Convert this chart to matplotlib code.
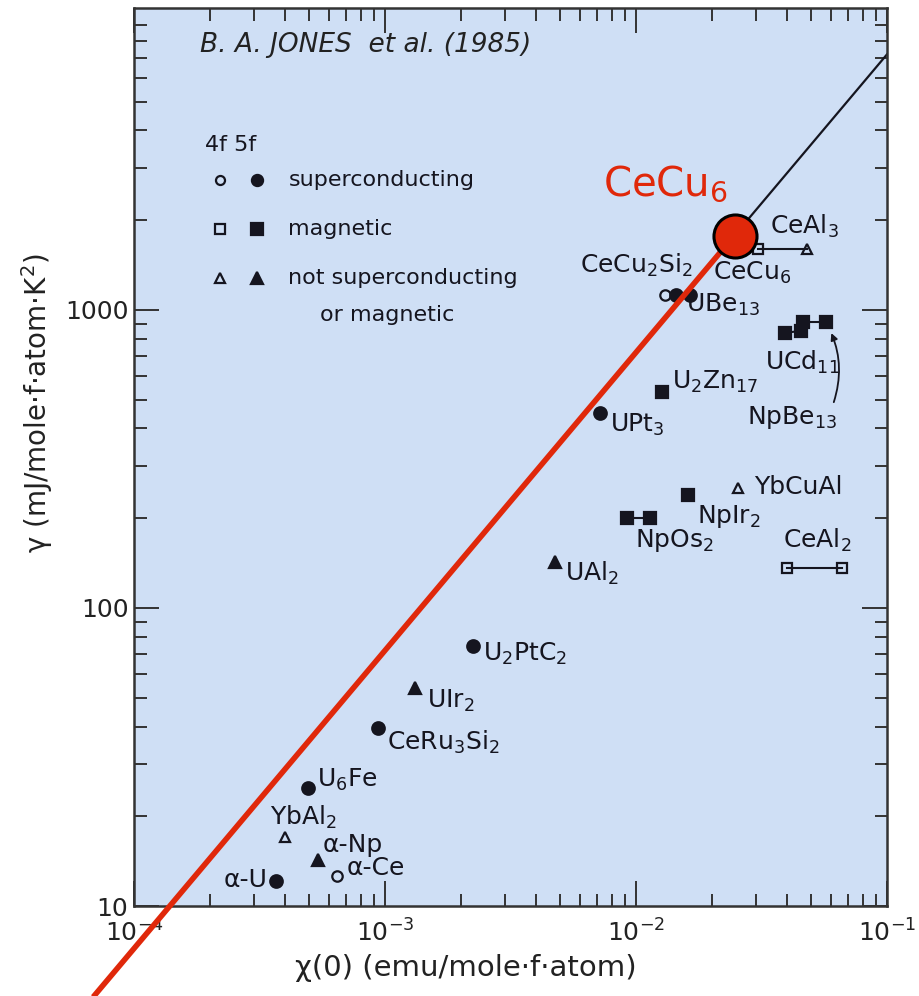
import matplotlib.pyplot as plt
from matplotlib.ticker import LogLocator, NullFormatter

# 单个化合物: chi(0) (emu/mole f-atom), gamma (mJ/mole f-atom K^2)
names = ["α-U", "YbAl$_2$", "U$_6$Fe", "α-Np", "α-Ce", "CeRu$_3$Si$_2$", "UIr$_2$",
         "U$_2$PtC$_2$", "UAl$_2$", "UPt$_3$", "U$_2$Zn$_{17}$", "NpIr$_2$", "YbCuAl",
         "CeCu$_2$Si$_2$"]
chi = [3.68e-4, 4.0e-4, 4.93e-4, 5.41e-4, 6.44e-4, 9.37e-4, 1.32e-3,
       2.24e-3, 4.76e-3, 7.19e-3, 1.27e-2, 1.61e-2, 2.55e-2, 1.31e-2]
gamma = [12.1, 17.0, 24.9, 14.3, 12.6, 39.6, 53.9,
         74.5, 142.6, 451, 531, 239, 253, 1122]
kind = ["sc", "none", "sc", "none", "sc", "sc", "none",
        "sc", "none", "sc", "mag", "mag", "none", "sc"]
filled = [True, False, True, True, False, True, True,
          True, True, True, True, True, False, False]

# 有两个值的化合物 (用线连起来)
range_names = ["NpOs$_2$", "CeAl$_2$", "UCd$_{11}$", "NpBe$_{13}$", "UBe$_{13}$", "CeAl$_3$"]
range_chi = [(9.2e-3, 1.137e-2), (4.0e-2, 6.62e-2), (3.93e-2, 4.54e-2),
             (4.63e-2, 5.71e-2), (1.44e-2, 1.64e-2), (3.06e-2, 4.8e-2)]
range_gamma = [(200.5, 200.5), (136.2, 136.2), (837, 851),
               (912, 912), (1122, 1122), (1603, 1603)]
range_kind = [("mag", "mag"), ("mag", "mag"), ("mag", "mag"),
              ("mag", "mag"), ("sc", "sc"), ("mag", "none")]
range_filled = [True, False, True, True, True, False]

# CeCu6 和 gamma ~ chi 的直线
cecu6_chi = 2.48e-2
cecu6_gamma = 1771
line_coef = 7.2e4
red_start_chi = 6.4e-5
line_end_chi = 1e-1

legend_rows = ["superconducting", "magnetic", "not superconducting"]
legend_kinds = ["sc", "mag", "none"]

# 标签偏移 (像素, 相对于点)
label_offsets = {
    "α-U": (-9, 1, "right"), "YbAl$_2$": (-15, 20, "left"), "U$_6$Fe": (9, 8, "left"),
    "α-Np": (5, 15, "left"), "α-Ce": (10, 8, "left"), "CeRu$_3$Si$_2$": (9, -15, "left"),
    "UIr$_2$": (12, -13, "left"), "U$_2$PtC$_2$": (10, -8, "left"), "UAl$_2$": (10, -11, "left"),
    "UPt$_3$": (10, -12, "left"), "U$_2$Zn$_{17}$": (10, 10, "left"), "NpIr$_2$": (9, -21, "left"),
    "YbCuAl": (16, 1, "left"), "CeCu$_2$Si$_2$": (-29, 30, "center"),
    "NpOs$_2$": (8, -23, "left"), "CeAl$_2$": (-4, 28, "left"), "UCd$_{11}$": (-20, -29, "left"),
    "NpBe$_{13}$": (-56, -96, "left"), "UBe$_{13}$": (10, -10, "left"), "CeAl$_3$": (12, 22, "left"),
}

MARK = {"sc": "o", "mag": "s", "none": "^"}
INK = "#15151f"
RED = "#e0280a"


def draw_point(ax, x, y, k, f, ms=9, **kw):
    ax.plot(x, y, MARK[k], ms=ms if f else ms - 1.5, mfc=INK if f else "none",
            mec=INK, mew=1.6, **kw)


def main():
    plt.rcParams["font.family"] = ["DejaVu Sans"]
    plt.rcParams["mathtext.fontset"] = "dejavusans"

    fig = plt.figure(figsize=(9.2, 9.96), dpi=100)
    ax = fig.add_axes([134 / 920, 90 / 996, 753 / 920, 898 / 996])
    ax.set_facecolor("#cfdff5")
    ax.set_xscale("log")
    ax.set_yscale("log")
    ax.set_xlim(1e-4, 1e-1)
    ax.set_ylim(10, 1.03e4)

    # 坐标轴
    ax.set_yticks([10, 100, 1000])
    ax.set_yticklabels(["10", "100", "1000"])
    ax.yaxis.set_minor_locator(LogLocator(subs=range(2, 10)))
    ax.xaxis.set_minor_locator(LogLocator(subs=range(2, 10)))
    ax.xaxis.set_minor_formatter(NullFormatter())
    ax.yaxis.set_minor_formatter(NullFormatter())
    ax.tick_params(which="both", direction="in", top=True, right=True,
                   width=1.4, color="#333")
    ax.tick_params(which="major", length=18, labelsize=18, labelcolor="#222")
    ax.tick_params(axis="x", which="major", pad=10)
    ax.tick_params(axis="y", which="major", pad=4)
    ax.tick_params(which="minor", length=9)
    for s in ax.spines.values():
        s.set_linewidth(1.8)
        s.set_color("#333")

    ax.set_xlabel("χ(0) (emu/mole·f·atom)", fontsize=21, color="#222")
    ax.set_ylabel("γ (mJ/mole·f·atom·K$^2$)", fontsize=20, color="#222")
    ax.xaxis.set_label_coords(0.44, -0.054)
    ax.yaxis.set_label_coords(-0.105, 0.56)

    # 直线
    ax.plot([cecu6_chi, line_end_chi], [line_coef * cecu6_chi, line_coef * line_end_chi],
            color=INK, lw=1.6, zorder=2)
    ax.plot([red_start_chi, cecu6_chi], [line_coef * red_start_chi, line_coef * cecu6_chi],
            color=RED, lw=4, solid_capstyle="butt", clip_on=False, zorder=5)

    # 数据点
    for n, x, y, k, f in zip(names, chi, gamma, kind, filled):
        draw_point(ax, x, y, k, f, zorder=3)
        dx, dy, ha = label_offsets[n]
        ax.annotate(n, (x, y), xytext=(dx * 0.72, dy * 0.72), textcoords="offset points",
                    ha=ha, va="center", fontsize=18, color=INK)

    for n, xs, ys, ks, f in zip(range_names, range_chi, range_gamma, range_kind, range_filled):
        ax.plot(xs, ys, color=INK, lw=1.5, zorder=2)
        for x, y, k in zip(xs, ys, ks):
            draw_point(ax, x, y, k, f, zorder=3)
        dx, dy, ha = label_offsets[n]
        ax.annotate(n, (xs[0], ys[0]), xytext=(dx * 0.72, dy * 0.72), textcoords="offset points",
                    ha=ha, va="center", fontsize=18, color=INK)

    # NpBe13 的弯箭头
    i = range_names.index("NpBe$_{13}$")
    ax.annotate("", (range_chi[i][1], range_gamma[i][1]), xytext=(7 * 0.72, -83 * 0.72),
                textcoords="offset points",
                arrowprops=dict(arrowstyle="-|>", connectionstyle="arc3,rad=0.22",
                                color=INK, lw=1.3, shrinkB=9, mutation_scale=10))

    # CeCu6 红点
    ax.plot(cecu6_chi, cecu6_gamma, "o", ms=31, mfc=RED, mec="black", mew=2.2,
            zorder=6, clip_on=False)
    ax.annotate("CeCu$_6$", (cecu6_chi, cecu6_gamma), xytext=(-132 * 0.72, 52 * 0.72),
                textcoords="offset points", ha="left", va="center", fontsize=29, color=RED)
    ax.annotate("CeCu$_6$", (cecu6_chi, cecu6_gamma), xytext=(-22 * 0.72, -37 * 0.72),
                textcoords="offset points", ha="left", va="center", fontsize=18, color=INK)

    # 标题与图例 (画在图里)
    ax.text(0.088, 0.959, "B. A. JONES  et al. (1985)", transform=ax.transAxes,
            style="italic", fontsize=19, va="center", color="#222")
    ax.text(0.094, 0.847, "4f 5f", transform=ax.transAxes, fontsize=16, va="center", color=INK)
    for j, (t, k) in enumerate(zip(legend_rows, legend_kinds)):
        yy = 0.808 - j * 0.0545
        draw_point(ax, 0.114, yy, k, False, ms=8, transform=ax.transAxes)
        draw_point(ax, 0.163, yy, k, True, ms=8, transform=ax.transAxes)
        ax.text(0.205, yy, t, transform=ax.transAxes, fontsize=16, va="center", color=INK)
    ax.text(0.247, 0.658, "or magnetic", transform=ax.transAxes, fontsize=16,
            va="center", color=INK)

    fig.savefig("out.png", dpi=100)


if __name__ == "__main__":
    main()
